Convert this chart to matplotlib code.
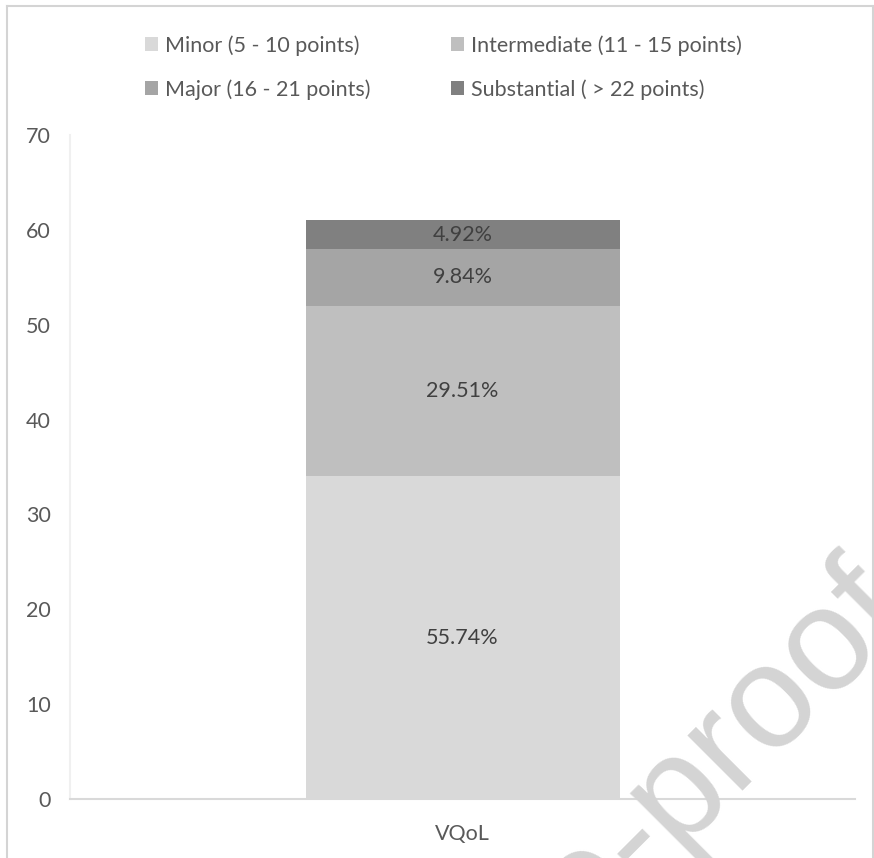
import matplotlib
matplotlib.use("Agg")
import matplotlib.pyplot as plt
from matplotlib.patches import Patch
from matplotlib.lines import Line2D

# VQoL change groups (patients per group) stacked in one column
categories = ["VQoL"]
groups = ["Minor (5 - 10 points)", "Intermediate (11 - 15 points)",
          "Major (16 - 21 points)", "Substantial ( > 22 points)"]
counts = [34, 18, 6, 3]
labels = ["55.74%", "29.51%", "9.84%", "4.92%"]
colors = ["#d9d9d9", "#bfbfbf", "#a5a5a5", "#808080"]
y_ticks = [0, 10, 20, 30, 40, 50, 60, 70]

W, H = 874, 858
plt.rcParams["font.family"] = ["Lato", "DejaVu Sans"]

fig = plt.figure(figsize=(W / 100, H / 100), dpi=100)
fig.patch.set_facecolor("white")
ax = fig.add_axes([70 / W, 1 - 799 / H, 785 / W, (799 - 135) / H])

bottom = 0
for n, lab, col, grp in zip(counts, labels, colors, groups):
    ax.bar(categories, [n], bottom=bottom, width=0.4, color=col, label=grp, zorder=2)
    ax.text(0, bottom + n / 2, lab, ha="center", va="center",
            fontsize=15.5, color="#404040", zorder=3)
    bottom += n

ax.set_xlim(-0.5, 0.5)
ax.set_ylim(0, 70)
ax.set_yticks(y_ticks)
ax.tick_params(axis="both", length=0, labelsize=15.5, labelcolor="#595959")
ax.tick_params(axis="y", pad=14)
ax.tick_params(axis="x", pad=18)
for s in ["top", "right"]:
    ax.spines[s].set_visible(False)
ax.spines["left"].set_color("#f0f0f0")
ax.spines["left"].set_linewidth(1.5)
ax.spines["bottom"].set_color("#d9d9d9")
ax.spines["bottom"].set_linewidth(1.5)

# legend filled row by row: reorder for matplotlib's column-wise layout
order = [0, 2, 1, 3]
handles = [Patch(facecolor=colors[i], edgecolor="none") for i in order]
fig.legend(handles, [groups[i] for i in order], loc="upper left",
           bbox_to_anchor=(145 / W, 1 - 35 / H),
           ncol=2, frameon=False, fontsize=15.5, labelcolor="#595959",
           handlelength=0.6, handleheight=0.6, handletextpad=0.35,
           columnspacing=3.7, labelspacing=1.1, borderpad=0, borderaxespad=0)

# outer frame
for xs, ys in [([7, 7], [6, H]), ([7, 873], [6, 6]), ([873, 873], [6, H])]:
    fig.add_artist(Line2D([x / W for x in xs], [1 - y / H for y in ys],
                          transform=fig.transFigure, color="#d4d4d4", lw=1.5))

# watermark
fig.text(914 / W, 1 - 620 / H, "Journal Pre-proof", rotation=45, rotation_mode="anchor",
         ha="right", va="baseline", fontsize=105, color="#d4d4d4",
         family=["Liberation Sans"], zorder=10)

fig.savefig("out.png", dpi=100, facecolor="white")
